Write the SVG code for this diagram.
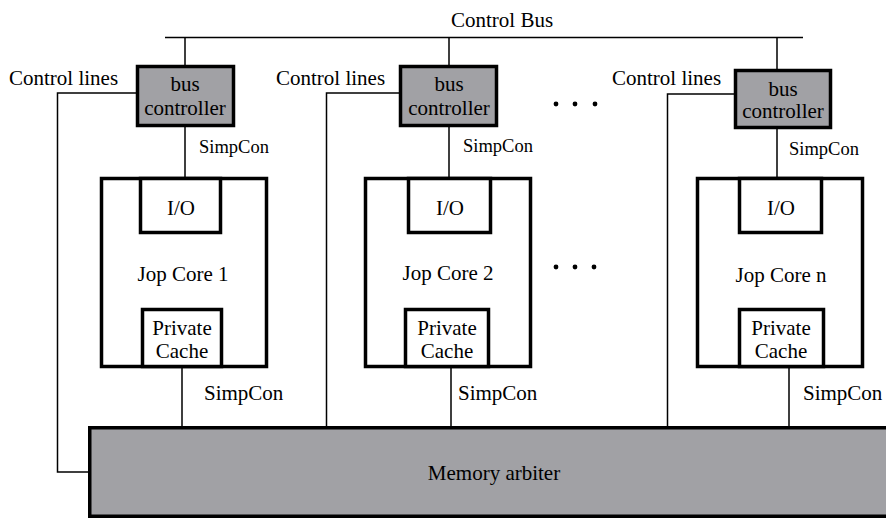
<svg xmlns="http://www.w3.org/2000/svg" width="886" height="519" viewBox="0 0 886 519" font-family="'Liberation Serif', 'Times New Roman', 'Nimbus Roman', 'DejaVu Serif', serif">
<style>
text{font-family:'Liberation Serif','Times New Roman','Nimbus Roman','DejaVu Serif',serif;font-size:21px;fill:#000}
.c{text-anchor:middle}
.sm{font-size:18.5px}
.box{fill:#fff;stroke:#000;stroke-width:3.5}
.gbox{fill:#a1a1a5;stroke:#000;stroke-width:3.5}
.ln{fill:none;stroke:#000;stroke-width:1.5}
.dot{fill:#000}
</style>
<rect width="886" height="519" fill="#fff"/>
<g id="connectors">
<path class="ln" d="M165 37.5H803"/>
<path class="ln" d="M185 37.5V66M449 37.5V66M777 37.5V70"/>
<path class="ln" d="M185 126V178M449 126V178M777 128V178"/>
<path class="ln" d="M137 93H57.5V472H89"/>
<path class="ln" d="M400 93H326.5V427"/>
<path class="ln" d="M735 94H667.5V427"/>
<path class="ln" d="M182 367V427M451 367V427M789 367V427"/>
</g>
<text id="control-bus-label" x="451" y="27">Control Bus</text>
<g id="labels">
<text x="9" y="85">Control lines</text>
<text x="276" y="85">Control lines</text>
<text x="612" y="85">Control lines</text>
<text class="sm" x="199" y="153">SimpCon</text>
<text class="sm" x="463" y="152">SimpCon</text>
<text class="sm" x="789" y="155">SimpCon</text>
<text x="204" y="400">SimpCon</text>
<text x="458" y="400">SimpCon</text>
<text x="803" y="400">SimpCon</text>
</g>
<g id="bus-controller-1">
<rect class="gbox" x="137.5" y="66.5" width="96" height="59"/>
<text class="c" x="185" y="91">bus</text>
<text class="c" x="185" y="115">controller</text>
</g>
<g id="bus-controller-2">
<rect class="gbox" x="400.5" y="66.5" width="96" height="59"/>
<text class="c" x="449" y="91">bus</text>
<text class="c" x="449" y="115">controller</text>
</g>
<g id="bus-controller-n">
<rect class="gbox" x="735.5" y="70.5" width="95" height="57"/>
<text class="c" x="783" y="96">bus</text>
<text class="c" x="783" y="118">controller</text>
</g>
<g id="jop-core-1">
<rect class="box" x="101.5" y="178.5" width="165" height="188"/>
<rect class="box" x="140.5" y="178.5" width="80" height="54"/>
<text class="c" x="181" y="215">I/O</text>
<text class="c" x="183" y="281">Jop Core 1</text>
<rect class="box" x="142.5" y="309.5" width="79" height="57"/>
<text class="c" x="182" y="335">Private</text>
<text class="c" x="182" y="358">Cache</text>
</g>
<g id="jop-core-2">
<rect class="box" x="365.5" y="178.5" width="165" height="188"/>
<rect class="box" x="408.5" y="178.5" width="82" height="54"/>
<text class="c" x="450" y="215">I/O</text>
<text class="c" x="448" y="280">Jop Core 2</text>
<rect class="box" x="405.5" y="309.5" width="83" height="57"/>
<text class="c" x="447" y="335">Private</text>
<text class="c" x="447" y="358">Cache</text>
</g>
<g id="jop-core-n">
<rect class="box" x="697.5" y="178.5" width="165" height="188"/>
<rect class="box" x="739.5" y="178.5" width="82" height="54"/>
<text class="c" x="781" y="215">I/O</text>
<text class="c" x="781" y="282">Jop Core n</text>
<rect class="box" x="739.5" y="309.5" width="84" height="57"/>
<text class="c" x="781" y="335">Private</text>
<text class="c" x="781" y="358">Cache</text>
</g>
<g id="ellipsis">
<circle class="dot" cx="556" cy="104" r="2.4"/>
<circle class="dot" cx="575" cy="104" r="2.4"/>
<circle class="dot" cx="595" cy="104" r="2.4"/>
<circle class="dot" cx="556" cy="267" r="2.4"/>
<circle class="dot" cx="575" cy="267" r="2.4"/>
<circle class="dot" cx="594" cy="267" r="2.4"/>
</g>
<g id="memory-arbiter">
<rect class="gbox" x="89.75" y="427.75" width="800" height="88.5"/>
<text class="c" x="494" y="480">Memory arbiter</text>
</g>
</svg>
